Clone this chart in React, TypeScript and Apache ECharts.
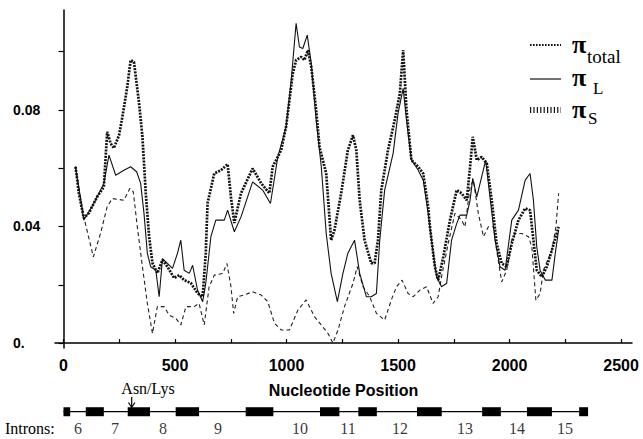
import React, { useEffect, useRef } from "react";
import * as echarts from "echarts";

// ---- data ----
const posTotal = [54, 69, 91, 114, 151, 181, 196, 211, 226, 249, 264, 286, 301, 316, 339, 354, 369, 384, 399, 421, 444, 466, 496, 519, 541, 571, 601, 624, 638, 646, 676, 706, 736, 751, 766, 796, 848, 886, 923, 938, 976, 998, 1013, 1028, 1043, 1066, 1080, 1096, 1111, 1133, 1148, 1178, 1200, 1215, 1245, 1275, 1298, 1313, 1328, 1350, 1380, 1395, 1410, 1425, 1455, 1485, 1508, 1523, 1538, 1560, 1590, 1613, 1635, 1643, 1665, 1680, 1703, 1733, 1763, 1785, 1808, 1823, 1835, 1853, 1875, 1898, 1920, 1942, 1965, 1987, 2010, 2040, 2070, 2092, 2107, 2122, 2145, 2167, 2190, 2220];
const piTotal = [0.0605, 0.0514, 0.0429, 0.0446, 0.0502, 0.0536, 0.0725, 0.0686, 0.0669, 0.0713, 0.0776, 0.0879, 0.0971, 0.0965, 0.0823, 0.0708, 0.0514, 0.0365, 0.0274, 0.024, 0.0285, 0.0262, 0.0223, 0.0233, 0.0216, 0.0206, 0.0171, 0.0159, 0.0309, 0.048, 0.0582, 0.0593, 0.0614, 0.05, 0.0412, 0.0514, 0.0599, 0.0549, 0.0514, 0.0605, 0.0662, 0.0742, 0.0833, 0.0925, 0.0971, 0.0982, 0.0971, 0.1005, 0.0948, 0.0799, 0.0673, 0.0582, 0.0353, 0.0388, 0.0514, 0.0662, 0.0713, 0.0662, 0.049, 0.0353, 0.0274, 0.0274, 0.0353, 0.0525, 0.0662, 0.0765, 0.0856, 0.1005, 0.0799, 0.0628, 0.0605, 0.0582, 0.0468, 0.0399, 0.0262, 0.0216, 0.0296, 0.0422, 0.0525, 0.0514, 0.049, 0.0605, 0.0708, 0.0628, 0.0639, 0.0616, 0.049, 0.0342, 0.0273, 0.0262, 0.0342, 0.0422, 0.0462, 0.0456, 0.0353, 0.025, 0.0227, 0.0262, 0.0319, 0.0399];

const posL = [54, 91, 136, 181, 204, 234, 271, 301, 328, 346, 361, 376, 391, 414, 429, 444, 466, 489, 511, 526, 541, 564, 579, 601, 624, 638, 661, 683, 721, 736, 766, 796, 848, 893, 928, 961, 998, 1021, 1043, 1058, 1073, 1093, 1111, 1133, 1156, 1178, 1200, 1228, 1253, 1275, 1305, 1328, 1358, 1380, 1403, 1418, 1440, 1478, 1500, 1523, 1538, 1560, 1590, 1613, 1635, 1650, 1673, 1695, 1718, 1740, 1763, 1778, 1808, 1823, 1835, 1853, 1875, 1893, 1912, 1935, 1957, 1980, 2010, 2040, 2070, 2092, 2107, 2122, 2137, 2160, 2190, 2205, 2220];
const piL = [0.0605, 0.0422, 0.0479, 0.0548, 0.0645, 0.0576, 0.0593, 0.0605, 0.0588, 0.0548, 0.0445, 0.0308, 0.0262, 0.025, 0.0159, 0.029, 0.0273, 0.0256, 0.0308, 0.0353, 0.025, 0.0239, 0.0267, 0.0182, 0.0142, 0.0205, 0.0365, 0.0422, 0.0422, 0.0456, 0.0382, 0.0433, 0.0553, 0.0525, 0.0479, 0.0639, 0.0742, 0.0902, 0.1097, 0.1016, 0.1011, 0.1057, 0.0959, 0.0765, 0.0605, 0.0376, 0.0239, 0.0142, 0.0239, 0.0308, 0.0353, 0.0239, 0.0159, 0.0159, 0.017, 0.0353, 0.0525, 0.0651, 0.0788, 0.0874, 0.0765, 0.0628, 0.0594, 0.0559, 0.0445, 0.0353, 0.0227, 0.0193, 0.0205, 0.0353, 0.041, 0.0439, 0.0439, 0.049, 0.0565, 0.0502, 0.057, 0.0628, 0.0502, 0.0353, 0.0262, 0.025, 0.0422, 0.0456, 0.0559, 0.0582, 0.049, 0.033, 0.025, 0.0216, 0.0216, 0.0308, 0.0388];

const posS = [54, 91, 134, 166, 196, 219, 271, 298, 313, 331, 354, 376, 399, 421, 451, 474, 504, 526, 549, 586, 608, 631, 653, 676, 714, 733, 751, 763, 781, 811, 848, 886, 916, 946, 976, 1013, 1051, 1088, 1126, 1156, 1186, 1208, 1231, 1260, 1298, 1317, 1343, 1373, 1403, 1440, 1470, 1493, 1518, 1545, 1568, 1598, 1628, 1657, 1680, 1695, 1725, 1755, 1785, 1800, 1823, 1838, 1860, 1883, 1905, 1928, 1942, 1965, 1987, 2010, 2025, 2055, 2085, 2100, 2118, 2137, 2152, 2190, 2208, 2220];
const piS = [0.0605, 0.0433, 0.0296, 0.0376, 0.0468, 0.0496, 0.049, 0.0531, 0.0519, 0.0399, 0.0262, 0.0136, 0.0033, 0.0125, 0.0125, 0.0096, 0.0085, 0.0062, 0.0125, 0.0125, 0.0136, 0.0062, 0.0193, 0.0233, 0.0239, 0.0273, 0.0193, 0.0102, 0.0159, 0.0165, 0.0176, 0.0165, 0.0142, 0.0068, 0.0045, 0.0045, 0.0113, 0.0148, 0.009, 0.0062, 0.0033, 0.0, 0.0045, 0.0125, 0.0205, 0.0262, 0.0193, 0.0159, 0.0102, 0.0079, 0.0148, 0.0193, 0.0216, 0.017, 0.0159, 0.0182, 0.0193, 0.0136, 0.0159, 0.0227, 0.0342, 0.0445, 0.0422, 0.0399, 0.0536, 0.0559, 0.0445, 0.0365, 0.0399, 0.0399, 0.0319, 0.021, 0.025, 0.0353, 0.0376, 0.0376, 0.0365, 0.033, 0.0147, 0.017, 0.025, 0.0319, 0.0399, 0.0514];

const xTickValues = [0, 250, 500, 750, 1000, 1250, 1500, 1750, 2000, 2250, 2500];
const xLabelValues = [0, 500, 1000, 1500, 2000, 2500];
const yTickValues = [0, 0.02, 0.04, 0.06, 0.08, 0.1];
const yLabelValues = [0, 0.04, 0.08];

// gene diagram (nucleotide units)
const geneStart = 0;
const geneEnd = 2352;
const exonStarts = [0, 100, 288, 503, 817, 1150, 1322, 1585, 1877, 2078, 2312];
const exonEnds = [30, 181, 388, 608, 941, 1237, 1405, 1696, 1961, 2190, 2352];
const intronNames = ["6", "7", "8", "9", "10", "11", "12", "13", "14", "15"];
const intronPos = [65, 231, 446, 693, 1061, 1276, 1509, 1800, 2033, 2249];

const SERIF = "Liberation Serif";
const SANS = "Liberation Sans";

export default function App() {
  const ref = useRef<HTMLDivElement>(null);
  useEffect(() => {
    const chart = echarts.init(ref.current!, null, { renderer: "svg" });
    const zip = (xs: number[], ys: number[]) => xs.map((x, i) => [x, ys[i]]);
    const lineY = 0.634;
    const txt = (text: string, x: number, y: number, size: number, extra: any = {}) => ({
      type: "text",
      x,
      y,
      style: { text, fontFamily: SERIF, fontSize: size, fill: "#000", verticalAlign: "middle", ...extra },
    });
    chart.setOption({
      animation: false,
      backgroundColor: "#fff",
      grid: [
        { left: 55, right: 11, top: 10, bottom: 91 },
        { left: 55, right: 11, top: 400, height: 32 },
      ],
      xAxis: [
        {
          type: "value",
          gridIndex: 0,
          min: -38,
          max: 2549,
          splitLine: { show: false },
          axisLine: { lineStyle: { color: "#000", width: 1.5 } },
          axisTick: { customValues: xTickValues, inside: true, length: 4, lineStyle: { color: "#000", width: 1.2 } },
          axisLabel: {
            customValues: xLabelValues,
            formatter: (v: number) => String(v),
            color: "#000",
            fontFamily: SANS,
            fontWeight: "bold",
            fontSize: 16,
            margin: 9,
          },
          name: "Nucleotide Position",
          nameLocation: "middle",
          nameGap: 34,
          nameTextStyle: { color: "#000", fontFamily: SANS, fontWeight: "bold", fontSize: 16 },
        },
        { type: "value", gridIndex: 1, min: -38, max: 2549, show: false },
      ],
      yAxis: [
        {
          type: "value",
          gridIndex: 0,
          min: -0.0017,
          max: 0.1143,
          splitLine: { show: false },
          axisLine: { show: true, lineStyle: { color: "#000", width: 1.5 } },
          axisTick: { show: true, customValues: yTickValues, length: 5, lineStyle: { color: "#000", width: 1.2 } },
          axisLabel: {
            customValues: yLabelValues,
            formatter: (v: number) => (v === 0 ? "0." : v.toFixed(2)),
            align: "left",
            margin: 42,
            color: "#000",
            fontFamily: SANS,
            fontWeight: "bold",
            fontSize: 14,
          },
        },
        { type: "value", gridIndex: 1, min: 0, max: 1, show: false },
      ],
      series: [
        {
          type: "line",
          name: "πS",
          data: zip(posS, piS),
          showSymbol: false,
          lineStyle: { color: "#222", width: 1.1, type: [4, 3] },
          z: 2,
        },
        {
          type: "line",
          name: "πL",
          data: zip(posL, piL),
          showSymbol: false,
          lineStyle: { color: "#111", width: 1.1, type: "solid" },
          z: 3,
        },
        {
          type: "line",
          name: "πtotal",
          data: zip(posTotal, piTotal),
          showSymbol: false,
          lineStyle: { color: "#111", width: 2.7, type: [2, 1.2] },
          z: 4,
        },
        {
          type: "line",
          xAxisIndex: 1,
          yAxisIndex: 1,
          data: [[geneStart, lineY], [geneEnd, lineY]],
          showSymbol: false,
          lineStyle: { color: "#000", width: 1.2 },
        },
        {
          type: "custom",
          xAxisIndex: 1,
          yAxisIndex: 1,
          data: exonStarts.map((s, i) => [s, exonEnds[i]]),
          encode: { x: [0, 1] },
          renderItem: (params: any, api: any) => {
            const s = api.coord([api.value(0), lineY]);
            const e = api.coord([api.value(1), lineY]);
            return {
              type: "rect",
              shape: { x: s[0], y: s[1] - 4.5, width: e[0] - s[0], height: 9 },
              style: { fill: "#000" },
            };
          },
        },
        {
          type: "scatter",
          xAxisIndex: 1,
          yAxisIndex: 1,
          data: intronPos.map((p, i) => [p, 0.125, intronNames[i]]),
          symbolSize: 1,
          itemStyle: { color: "transparent" },
          label: {
            show: true,
            position: "inside",
            formatter: (p: any) => p.value[2],
            color: "#000",
            fontFamily: SERIF,
            fontSize: 16,
          },
        },
      ],
      graphic: [
        // legend
        { type: "line", shape: { x1: 530, y1: 45, x2: 561, y2: 45 }, style: { stroke: "#111", lineWidth: 2, lineDash: [1.6, 1.4] } },
        txt("π", 572, 44, 26, { fontWeight: "bold" }),
        txt("total", 587, 56, 19),
        { type: "line", shape: { x1: 530, y1: 79, x2: 561, y2: 79 }, style: { stroke: "#111", lineWidth: 1.2 } },
        txt("π", 572, 77, 26, { fontWeight: "bold" }),
        txt("L", 593, 88, 17),
        { type: "line", shape: { x1: 530, y1: 110, x2: 561, y2: 110 }, style: { stroke: "#111", lineWidth: 6, lineDash: [1.2, 2.2] } },
        txt("π", 572, 109, 26, { fontWeight: "bold" }),
        txt("S", 588, 118, 17),
        // annotations
        txt("Asn/Lys", 148, 388, 16, { align: "center" }),
        { type: "line", shape: { x1: 131.7, y1: 397, x2: 131.7, y2: 407 }, style: { stroke: "#000", lineWidth: 1.2 } },
        { type: "polyline", shape: { points: [[128.5, 402.5], [131.7, 407.5], [134.9, 402.5]] }, style: { stroke: "#000", lineWidth: 1.2, fill: "none" } },
        txt("Introns:", 5, 428, 16),
      ],
    });
    return () => chart.dispose();
  }, []);
  return <div ref={ref} style={{ position: "fixed", left: 0, top: 0, width: 643, height: 439 }} />;
}
